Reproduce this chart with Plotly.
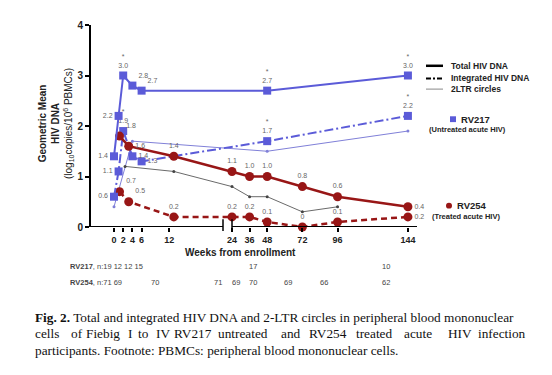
import plotly.graph_objects as go

# ---------------- data ----------------
tick_weeks = [0, 2, 4, 6, 12, 24, 36, 48, 72, 96, 144]
tick_labels = ["0", "2", "4", "6", "12", "24", "36", "48", "72", "96", "144"]
y_ticks = [0, 1, 2, 3, 4]

rv217_weeks = [0, 1, 2, 4, 6, 48, 144]
rv217_total = [1.4, 2.2, 3.0, 2.8, 2.7, 2.7, 3.0]
rv217_integrated = [0.6, 1.1, 1.9, 1.4, 1.3, 1.7, 2.2]
rv217_total_sig = [False, False, True, False, False, True, True]
rv217_int_sig = [False, False, True, False, False, True, True]
rv217_2ltr_weeks = [0, 4, 48, 144]
rv217_2ltr = [0.4, 1.7, 1.5, 1.9]

rv254_weeks = [1.2, 3.2, 13, 24, 36, 48, 72, 96, 144]
rv254_total = [1.8, 1.6, 1.4, 1.1, 1.0, 1.0, 0.8, 0.6, 0.4]
rv254_integrated = [0.7, 0.5, 0.2, 0.2, 0.2, 0.1, 0.0, 0.1, 0.2]
rv254_2ltr_weeks = [2.4, 13, 24, 36, 48, 72, 96]
rv254_2ltr = [1.2, 1.1, 0.8, 0.6, 0.6, 0.3, 0.4]

n217_weeks = [0, 2, 4, 6, 48, 144]
n217 = [19, 12, 12, 15, 17, 10]
n254_weeks = [0, 2, 12, 24, 36, 48, 72, 96, 144]
n254 = [71, 69, 70, 71, 69, 70, 69, 66, 62]

# ---------------- layout geometry ----------------
# page body has an 8px default margin; the figure is shrunk/shifted to compensate
OFF = 8
W_FIG, H_FIG = 544, 359
L, R, T, B = 91, 417, 19, 227   # plot area in window pixels
BLUE = "#5b5bd8"
BLUE_THIN = "#8080d8"
RED = "#981616"
GRAY = "#6a6a6a"
LABEL = "#666666"
SANS = "Liberation Sans, Arial, sans-serif"
SERIF = "Liberation Serif, Times New Roman, serif"


def pos(w):
    """broken-axis scale: weeks -> axis units"""
    if w <= 18:
        return 114 + 4.6 * w
    return 232 + (w - 24) * 1.466


def PX(px):
    return (px - L) / (R - L)


def PY(py):
    return (B - py) / (B - T)


def fmt(v):
    return "0" if v == 0 else f"{v:.1f}"


def labels(vals, sig=None):
    out = []
    for i, v in enumerate(vals):
        s = fmt(v)
        if sig is not None and sig[i]:
            s = "*<br>" + s
        out.append(s)
    return out


fig = go.Figure()

# 2LTR circles (thin)
fig.add_trace(go.Scatter(
    x=[pos(w) for w in rv217_2ltr_weeks], y=rv217_2ltr, mode="lines+markers",
    line=dict(color=BLUE_THIN, width=1), marker=dict(size=3, color=BLUE_THIN),
    cliponaxis=False, showlegend=False))
fig.add_trace(go.Scatter(
    x=[pos(w) for w in rv254_2ltr_weeks], y=rv254_2ltr, mode="lines+markers",
    line=dict(color=GRAY, width=1), marker=dict(size=3, color="#444"),
    cliponaxis=False, showlegend=False))

# Integrated HIV DNA
fig.add_trace(go.Scatter(
    x=[pos(w) for w in rv254_weeks], y=rv254_integrated, mode="lines+markers+text",
    line=dict(color=RED, width=2.5, dash="6px,4px"),
    marker=dict(symbol="circle", size=9, color=RED),
    text=labels(rv254_integrated),
    textposition=["top right", "top right", "top center", "top center", "top center",
                  "top center", "top center", "top center", "middle right"],
    textfont=dict(size=7, color=LABEL, family=SANS),
    cliponaxis=False, showlegend=False))
fig.add_trace(go.Scatter(
    x=[pos(w) for w in rv217_weeks], y=rv217_integrated, mode="lines+markers+text",
    line=dict(color=BLUE, width=2, dash="9px,3px,2px,3px"),
    marker=dict(symbol="square", size=8, color=BLUE),
    text=labels(rv217_integrated, rv217_int_sig),
    textposition=["middle left", "middle left", "top center", "middle right",
                  "middle right", "top center", "top center"],
    textfont=dict(size=7, color=LABEL, family=SANS),
    cliponaxis=False, showlegend=False))

# Total HIV DNA
fig.add_trace(go.Scatter(
    x=[pos(w) for w in rv254_weeks], y=rv254_total, mode="lines+markers+text",
    line=dict(color=RED, width=2.5),
    marker=dict(symbol="circle", size=9, color=RED),
    text=labels(rv254_total),
    textposition=["top right", "middle right", "top center", "top center", "top center",
                  "top center", "top center", "top center", "middle right"],
    textfont=dict(size=7, color=LABEL, family=SANS),
    cliponaxis=False, showlegend=False))
fig.add_trace(go.Scatter(
    x=[pos(w) for w in rv217_weeks], y=rv217_total, mode="lines+markers+text",
    line=dict(color=BLUE, width=2),
    marker=dict(symbol="square", size=8, color=BLUE),
    text=labels(rv217_total, rv217_total_sig),
    textposition=["middle left", "middle left", "top center", "top right",
                  "top right", "top center", "top center"],
    textfont=dict(size=7, color=LABEL, family=SANS),
    cliponaxis=False, showlegend=False))

shapes = []
# broken x axis line
shapes.append(dict(type="line", xref="x", yref="y", x0=L, x1=223, y0=0, y1=0,
                   line=dict(color="black", width=2)))
shapes.append(dict(type="line", xref="x", yref="y", x0=232, x1=R, y0=0, y1=0,
                   line=dict(color="black", width=2)))
for bx in (223, 232):
    shapes.append(dict(type="line", xref="x", yref="paper", x0=bx, x1=bx,
                       y0=PY(219), y1=PY(231), line=dict(color="black", width=1.5)))

# legend samples
shapes.append(dict(type="line", xref="paper", yref="paper", x0=PX(426), x1=PX(443),
                   y0=PY(61), y1=PY(61), line=dict(color="black", width=2.5)))
shapes.append(dict(type="line", xref="paper", yref="paper", x0=PX(426), x1=PX(443),
                   y0=PY(74), y1=PY(74), line=dict(color="black", width=2, dash="5px,2px,2px,2px")))
shapes.append(dict(type="line", xref="paper", yref="paper", x0=PX(426), x1=PX(443),
                   y0=PY(85), y1=PY(85), line=dict(color="#888", width=1)))
shapes.append(dict(type="rect", xref="paper", yref="paper", x0=PX(450), x1=PX(456),
                   y0=PY(113), y1=PY(119), fillcolor=BLUE, line=dict(width=0)))
shapes.append(dict(type="circle", xref="paper", yref="paper", x0=PX(446), x1=PX(452),
                   y0=PY(202), y1=PY(208), fillcolor=RED, line=dict(width=0)))

ann = []


def text(px, py, s, size, anchor="left", family=SANS, color="#222", bold=False, angle=0):
    ann.append(dict(xref="paper", yref="paper", x=PX(px), y=PY(py),
                    text=(f"<b>{s}</b>" if bold else s), showarrow=False,
                    xanchor=anchor, yanchor="middle", textangle=angle,
                    font=dict(size=size, family=family, color=color)))


# legend text
text(449, 61, "Total HIV DNA", 8.5, bold=True)
text(449, 74, "Integrated HIV DNA", 8.5, bold=True)
text(449, 85, "2LTR circles", 8.5, bold=True)
text(459, 116, "RV217", 9.5, bold=True)
text(467, 127, "(Untreated acute HIV)", 7.5, anchor="center", bold=True)
text(455, 205, "RV254", 9.5, bold=True)
text(466, 216, "(Treated acute HIV)", 7.5, anchor="center", bold=True)

# y axis title
text(56, 121, "<b>Geometric Mean<br>HIV DNA</b><br>(log<sub>10</sub>copies/10<sup>6</sup> PBMCs)",
     10, anchor="center", angle=-90)

# x axis title
text(240, 253, "Weeks from enrollment", 10, anchor="center", bold=True)

# n table: early visits written inline after the row label, later ones under their week
early217 = " ".join(str(n) for w, n in zip(n217_weeks, n217) if w <= 6)
early254 = " ".join(str(n) for w, n in zip(n254_weeks, n254) if w <= 6)
text(68, 268, f"<b>RV217</b>, n:{early217}", 7.5, color="#444")
text(68, 284, f"<b>RV254</b>, n:{early254}", 7.5, color="#444")
for w, n in zip(n217_weeks, n217):
    if w > 6:
        ann.append(dict(xref="x", yref="paper", x=pos(w), y=PY(268), text=str(n),
                        showarrow=False, xanchor="center", yanchor="middle",
                        xshift=(-14 if w < 144 else -22),
                        font=dict(size=7.5, family=SANS, color="#444")))
for w, n in zip(n254_weeks, n254):
    if w > 6:
        ann.append(dict(xref="x", yref="paper", x=pos(w), y=PY(284), text=str(n),
                        showarrow=False, xanchor="center", yanchor="middle",
                        xshift=(-14 if w < 144 else -22),
                        font=dict(size=7.5, family=SANS, color="#444")))

# caption
text(33, 320, "<b>Fig. 2.</b> Total and integrated HIV DNA and 2-LTR circles in peripheral blood mononuclear",
     13.3, family=SERIF, color="#111")
line2 = [("cells", 33), ("of", 69), ("Fiebig", 84), ("I", 126), ("to", 136), ("IV", 154),
         ("RV217", 172), ("untreated", 216), ("and", 279), ("RV254", 307), ("treated", 354),
         ("acute", 402), ("HIV", 446), ("infection", 476)]
for wd, x0 in line2:
    text(x0, 337, wd, 13.3, family=SERIF, color="#111")
text(33, 354, "participants. Footnote: PBMCs: peripheral blood mononuclear cells.",
     13.3, family=SERIF, color="#111")

fig.update_layout(
    width=W_FIG, height=H_FIG,
    margin=dict(l=L - OFF, r=W_FIG - (R - OFF), t=T - OFF, b=H_FIG - (B - OFF), pad=0),
    paper_bgcolor="white", plot_bgcolor="white",
    shapes=shapes, annotations=ann,
    xaxis=dict(range=[L, R], showline=False, showgrid=False, zeroline=False,
               tickmode="array", tickvals=[pos(w) for w in tick_weeks],
               ticktext=[f"<b>{t}</b>" for t in tick_labels],
               ticks="outside", ticklen=4, tickwidth=1.5, tickcolor="black",
               tickfont=dict(size=9, family=SANS, color="#222")),
    yaxis=dict(range=[0, 4], showline=True, linecolor="black", linewidth=2,
               showgrid=False, zeroline=False,
               tickmode="array", tickvals=y_ticks,
               ticktext=[f"<b>{t}</b>" for t in y_ticks],
               ticks="outside", ticklen=4, tickwidth=1.5, tickcolor="black",
               tickfont=dict(size=10, family=SANS, color="#222")),
)

fig.write_html("out.html")
